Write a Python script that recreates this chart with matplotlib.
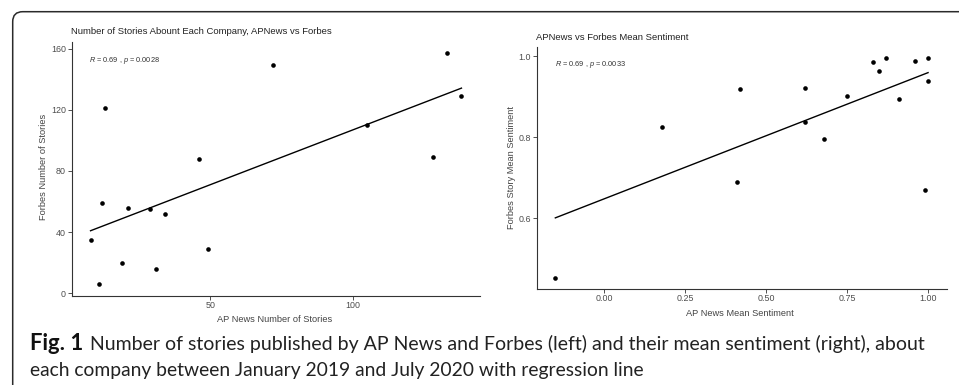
import numpy as np
import matplotlib
matplotlib.use("Agg")
import matplotlib.pyplot as plt
from matplotlib.path import Path
from matplotlib.patches import PathPatch
from matplotlib.transforms import IdentityTransform

# ---------------- data ----------------
ap_stories = [8, 11, 12, 13, 19, 21, 29, 31, 34, 46, 49, 72, 105, 128, 133, 138]
forbes_stories = [35, 6, 59, 121, 20, 56, 55, 16, 52, 88, 29, 149, 110, 89, 157, 129]

ap_sent = [-0.15, 0.18, 0.41, 0.42, 0.62, 0.62, 0.68, 0.75, 0.83, 0.85, 0.87, 0.91, 0.96, 0.99, 1.00, 1.00]
forbes_sent = [0.454, 0.825, 0.689, 0.920, 0.922, 0.839, 0.795, 0.902, 0.986, 0.964, 0.997, 0.894, 0.988, 0.671, 0.997, 0.940]

left_xticks = [50, 100]
left_yticks = [0, 40, 80, 120, 160]
right_xticks = [0.00, 0.25, 0.50, 0.75, 1.00]
right_xticklabels = ["0.00", "0.25", "0.50", "0.75", "1.00"]
right_yticks = [0.6, 0.8, 1.0]
right_yticklabels = ["0.6", "0.8", "1.0"]

left_title = "Number of Stories Abount Each Company, APNews vs Forbes"
right_title = "APNews vs Forbes Mean Sentiment"
left_stat = r"$R$ = 0.69 , $p$ = 0.0028"
right_stat = r"$R$ = 0.69 , $p$ = 0.0033"
left_xlabel = "AP News Number of Stories"
left_ylabel = "Forbes Number of Stories"
right_xlabel = "AP News Mean Sentiment"
right_ylabel = "Forbes Story Mean Sentiment"
cap_bold = "Fig. 1"
cap_line1 = "Number of stories published by AP News and Forbes (left) and their mean sentiment (right), about"
cap_line2 = "each company between January 2019 and July 2020 with regression line"

# ---------------- style ----------------
plt.rcParams['font.family'] = ['Liberation Sans', 'DejaVu Sans']
plt.rcParams['mathtext.fontset'] = 'custom'
plt.rcParams['mathtext.rm'] = 'Liberation Sans'
plt.rcParams['mathtext.it'] = 'Liberation Sans:italic'

W, H = 959, 385
fig = plt.figure(figsize=(W / 100, H / 100), dpi=100)
fig.patch.set_facecolor("white")


def fx(x):
    return x / W


def fy(y):
    return 1 - y / H


def make_axes(x0, x1, ytop, ybot):
    return fig.add_axes([fx(x0), fy(ybot), (x1 - x0) / W, (ybot - ytop) / H])


def style(ax):
    for s in ["top", "right"]:
        ax.spines[s].set_visible(False)
    for s in ["left", "bottom"]:
        ax.spines[s].set_color("#333333")
        ax.spines[s].set_linewidth(0.8)
    ax.tick_params(axis="both", direction="out", length=2.8, width=0.6,
                   color="#333333", labelsize=6.4, labelcolor="#4D4D4D", pad=1.5)
    ax.set_facecolor("white")


def draw_panel(ax, x, y):
    x = np.asarray(x, float)
    y = np.asarray(y, float)
    ax.scatter(x, y, s=11, color="black", zorder=3, linewidths=0)
    b, a = np.polyfit(x, y, 1)
    xs = np.array([x.min(), x.max()])
    ax.plot(xs, a + b * xs, color="black", lw=1.0, zorder=2)
    xr = x.max() - x.min()
    yr = y.max() - y.min()
    ax.set_xlim(x.min() - 0.05 * xr, x.max() + 0.05 * xr)
    ax.set_ylim(y.min() - 0.05 * yr, y.max() + 0.05 * yr)


# left panel
axL = make_axes(72, 480, 41.7, 295.5)
draw_panel(axL, ap_stories, forbes_stories)
axL.set_xticks(left_xticks)
axL.set_yticks(left_yticks)
style(axL)

# right panel
axR = make_axes(536.7, 946.7, 46.7, 288.5)
draw_panel(axR, ap_sent, forbes_sent)
axR.set_xticks(right_xticks)
axR.set_xticklabels(right_xticklabels)
axR.set_yticks(right_yticks)
axR.set_yticklabels(right_yticklabels)
style(axR)

# titles
fig.text(fx(71), fy(31.7), left_title, fontsize=6.8, color="#222222", ha="left", va="center")
fig.text(fx(536), fy(37.7), right_title, fontsize=6.8, color="#222222", ha="left", va="center")

# stats
fig.text(fx(89), fy(60), left_stat, fontsize=5.3, color="#333333", ha="left", va="center")
fig.text(fx(555), fy(64), right_stat, fontsize=5.3, color="#333333", ha="left", va="center")

# axis labels
fig.text(fx(275), fy(319), left_xlabel, fontsize=6.7, color="#444444", ha="center", va="center")
fig.text(fx(43), fy(167), left_ylabel, fontsize=6.7, color="#444444", ha="center", va="center", rotation=90)
fig.text(fx(740), fy(313), right_xlabel, fontsize=6.7, color="#444444", ha="center", va="center")
fig.text(fx(511), fy(167.5), right_ylabel, fontsize=6.7, color="#444444", ha="center", va="center", rotation=90)

# frame (rounded corner, open on right/bottom)
x0, y0, r = 12.7, H - 11.7, 10
verts = [(x0, -5), (x0, y0 - r), (x0, y0), (x0 + r, y0), (W + 5, y0)]
codes = [Path.MOVETO, Path.LINETO, Path.CURVE3, Path.CURVE3, Path.LINETO]
fig.patches.append(PathPatch(Path(verts, codes), transform=IdentityTransform(),
                             fill=False, edgecolor="#2a2a2a", lw=1.1, figure=fig))

# caption
cap_font = ['Lato', 'DejaVu Sans']
fig.canvas.draw()
renderer = fig.canvas.get_renderer()

tb = fig.text(fx(29.5), fy(350), cap_bold, fontsize=12, fontweight="bold",
              family=cap_font, color="#111111", ha="left", va="baseline")
t1 = fig.text(fx(90), fy(350), cap_line1, fontsize=12, family=cap_font,
              color="#222222", ha="left", va="baseline")
t2 = fig.text(fx(29.5), fy(375.7), cap_line2, fontsize=12, family=cap_font,
              color="#222222", ha="left", va="baseline")
# scale caption fonts so that each line spans the same width as the reference
targets = [(tb, 53.0), (t1, 830.0), (t2, 613.0)]
for t, target in targets:
    w = t.get_window_extent(renderer).width
    t.set_fontsize(12 * target / w)

fig.savefig("out.png", dpi=100, facecolor="white")
